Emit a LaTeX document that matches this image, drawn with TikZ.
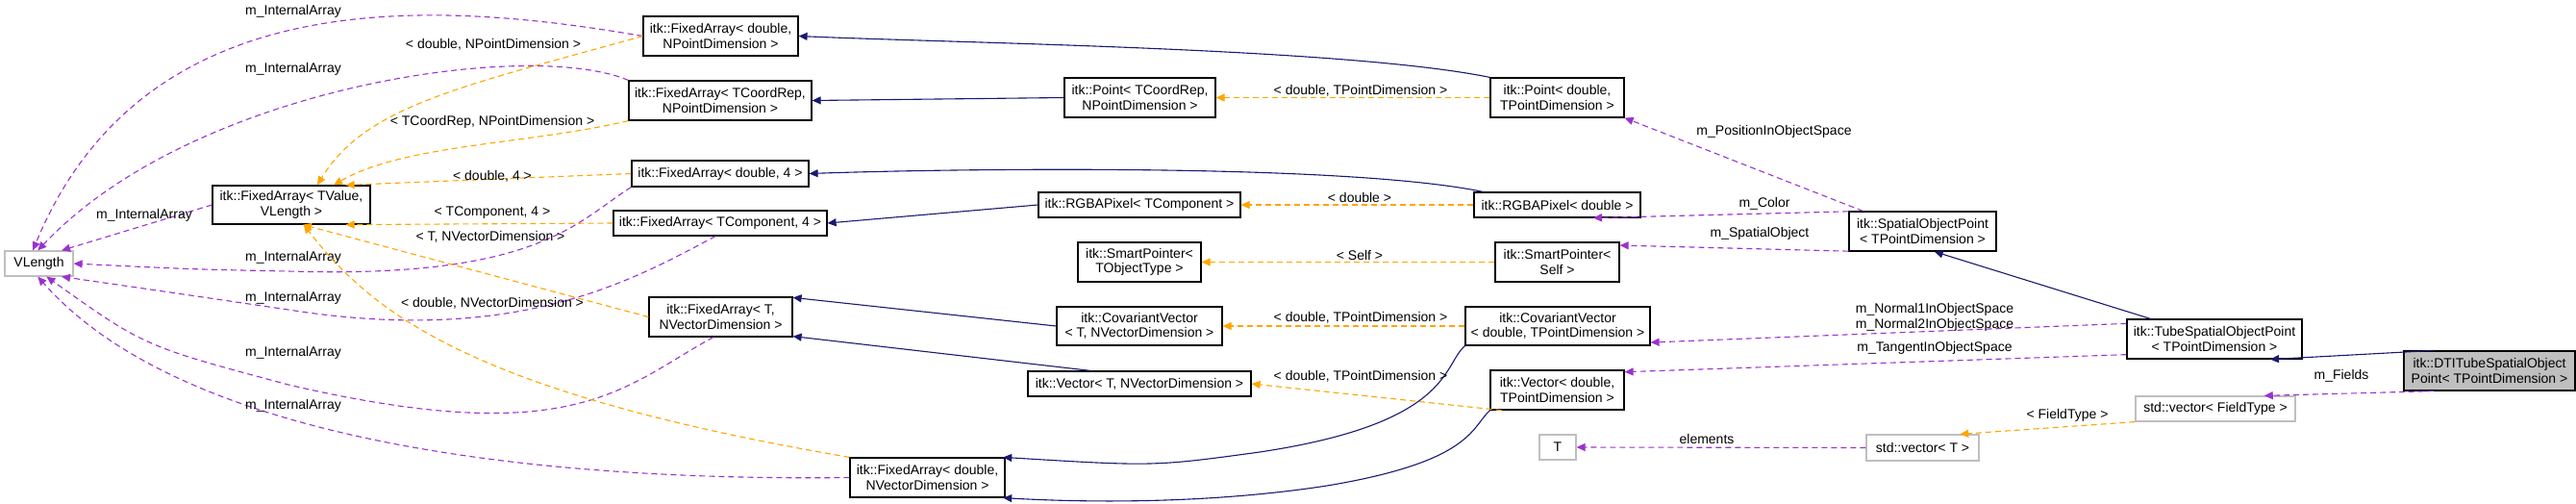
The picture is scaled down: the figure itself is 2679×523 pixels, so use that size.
\documentclass[tikz,border=0pt]{standalone}
\usepackage{fontspec}
\setmainfont{Liberation Sans}
\usetikzlibrary{arrows.meta}
\definecolor{nv}{HTML}{191970}
\definecolor{pu}{HTML}{9A32CD}
\definecolor{or}{HTML}{FFA500}
\definecolor{gb}{HTML}{BFBFBF}
\begin{document}
\begin{tikzpicture}[x=1pt,y=-1pt,
 font=\fontsize{14}{15.5}\selectfont,
 box/.style={draw=black,line width=1.2pt,fill=white,align=center,inner sep=0pt},
 gbox/.style={draw=gb,line width=1.2pt,fill=white,align=center,inner sep=0pt},
 tip/.style={-{Triangle[length=9pt,width=8pt]}},
 inh/.style={tip,draw=nv,line width=1.1pt},
 tpl/.style={tip,draw=or,dashed,dash pattern=on 6pt off 4pt,line width=1.1pt},
 use/.style={tip,draw=pu,dashed,dash pattern=on 6pt off 4pt,line width=1.1pt},
 lab/.style={inner sep=1pt}]
\useasboundingbox (0,0) rectangle (2679,523);
\newcommand\bx[7][box]{\node[#1,minimum width={(#5-#3)*1pt},minimum height={(#6-#4)*1pt}] (#2) at ({(#3+#5)/2},{(#4+#6)/2}) {#7};}
\bx[gbox]{vl}{5}{261}{76}{287}{VLength}
\bx{fav}{221}{193}{385}{233}{itk::FixedArray< TValue,\\VLength >}
\bx{fadp}{669}{17}{830}{58}{itk::FixedArray< double,\\NPointDimension >}
\bx{facp}{654}{84}{844}{125}{itk::FixedArray< TCoordRep,\\NPointDimension >}
\bx{fad4}{657}{167}{841}{194}{itk::FixedArray< double, 4 >}
\bx{fac4}{638}{219}{860}{245}{itk::FixedArray< TComponent, 4 >}
\bx{fatv}{675}{309}{824}{350}{itk::FixedArray< T,\\NVectorDimension >}
\bx{fadv}{884}{476}{1045}{517}{itk::FixedArray< double,\\NVectorDimension >}
\bx{ptc}{1107}{81}{1264}{122}{itk::Point< TCoordRep,\\NPointDimension >}
\bx{ptd}{1550}{81}{1689}{122}{itk::Point< double,\\TPointDimension >}
\bx{rgc}{1080}{200}{1290}{226}{itk::RGBAPixel< TComponent >}
\bx{rgd}{1533}{200}{1706}{226}{itk::RGBAPixel< double >}
\bx{spo}{1121}{252}{1249}{293}{itk::SmartPointer<\\TObjectType >}
\bx{sps}{1555}{252}{1684}{293}{itk::SmartPointer<\\Self >}
\bx{cvt}{1099}{319}{1271}{359}{itk::CovariantVector\\< T, NVectorDimension >}
\bx{cvd}{1524}{319}{1716}{359}{itk::CovariantVector\\< double, TPointDimension >}
\bx{vct}{1069}{386}{1301}{412}{itk::Vector< T, NVectorDimension >}
\bx{vcd}{1550}{385}{1689}{426}{itk::Vector< double,\\TPointDimension >}
\bx[gbox]{tt}{1601}{452}{1639}{478}{T}
\bx{sop}{1923}{220}{2076}{261}{itk::SpatialObjectPoint\\< TPointDimension >}
\bx{tsop}{2212}{332}{2394}{373}{itk::TubeSpatialObjectPoint\\< TPointDimension >}
\bx[box,fill=gb]{dti}{2500}{365}{2678}{406}{itk::DTITubeSpatialObject\\Point< TPointDimension >}
\bx[gbox]{svf}{2221}{412}{2387}{438}{std::vector< FieldType >}
\bx[gbox]{svt}{1941}{452}{2058}{479}{std::vector< T >}
% m_InternalArray edges
\draw[use] (fadp.west) .. controls (450,0) and (150,-20) .. (vl.115);
\draw[use] (facp.north west) .. controls (550,40) and (200,90) .. (vl.95);
\draw[use] (fav.west) -- (vl.30);
\draw[use] (fad4.south west) .. controls (600,230) and (560,290) .. (300,282) .. controls (200,280) .. (vl.east);
\draw[use] (fac4.250) .. controls (660,290) and (540,360) .. (300,322) .. controls (150,300) .. (vl.-30);
\draw[use] (fatv.250) .. controls (650,400) and (600,470) .. (300,400) .. controls (150,360) .. (vl.-60);
\draw[use] (fadv.west) .. controls (600,500) and (200,470) .. (vl.-95);
\node[lab] (l1) at (305,12) {m\_InternalArray};
\node[lab] (l2) at (305,72) {m\_InternalArray};
\node[lab] (l3) at (150,224) {m\_InternalArray};
\node[lab] (l4) at (305,268) {m\_InternalArray};
\node[lab] (l5) at (305,310) {m\_InternalArray};
\node[lab] (l6) at (305,367) {m\_InternalArray};
\node[lab] (l7) at (305,422) {m\_InternalArray};
% template edges to FixedArray<TValue,VLength>
\draw[tpl] (fadp.west) .. controls (480,90) and (380,110) .. ([xshift=27pt]fav.north);
\draw[tpl] (facp.south west) .. controls (550,150) and (420,150) .. ([xshift=44pt]fav.north);
\draw[tpl] (fad4.west) -- (fav.20);
\draw[tpl] (fac4.west) -- (fav.-20);
\draw[tpl] (fatv.west) -- (fav.-60);
\draw[tpl] (fadv.north west) .. controls (500,410) and (390,330) .. (fav.-58);
\node[lab] (t1) at (513,46) {< double, NPointDimension >};
\node[lab] (t2) at (512,127) {< TCoordRep, NPointDimension >};
\node[lab] (t3) at (512,183) {< double, 4 >};
\node[lab] (t4) at (512,221) {< TComponent, 4 >};
\node[lab] (t5) at (510,246) {< T, NVectorDimension >};
\node[lab] (t6) at (512,315) {< double, NVectorDimension >};
% inheritance
\draw[inh] (ptd.north west) .. controls (1400,50) and (1000,45) .. (fadp.east);
\draw[inh] (ptc.west) -- (facp.east);
\draw[inh] (rgd.170) .. controls (1400,170) and (1000,175) .. (fad4.east);
\draw[inh] (rgc.west) -- (fac4.east);
\draw[inh] (cvt.west) -- (fatv.15);
\draw[inh] (vct.165) -- (fatv.-15);
\draw[inh] (cvd.south west) .. controls (1500,380) and (1510,440) .. (1310,470) .. controls (1200,485) .. (fadv.15);
\draw[inh] (vcd.south west) .. controls (1530,445) and (1530,480) .. (1380,505) .. controls (1250,525) and (1120,522) .. (fadv.-15);
\draw[inh] (tsop.north west) ++(25,0) coordinate (ta) (ta) -- (sop.-60);
\draw[inh] (dti.160) -- (tsop.-20);
% template, right side
\draw[tpl] (ptd.west) -- (ptc.east);
\draw[tpl] (rgd.west) -- (rgc.east);
\draw[tpl] (sps.west) -- (spo.east);
\draw[tpl] (cvd.west) -- (cvt.east);
\draw[tpl] (vcd.200) -- (vct.east);
\draw[tpl] (svf.south west) -- (svt.20);
\node[lab] (r1) at (1415,94) {< double, TPointDimension >};
\node[lab] (r2) at (1414,205) {< double >};
\node[lab] (r3) at (1414,265) {< Self >};
\node[lab] (r4) at (1415,330) {< double, TPointDimension >};
\node[lab] (r5) at (1415,391) {< double, TPointDimension >};
\node[lab] (r6) at (2150,432) {< FieldType >};
% usage, right side
\draw[use] (sop.north west) ++(15,0) coordinate (sa) (sa) -- (ptd.south east);
\draw[use] (sop.165) -- (rgd.-20);
\draw[use] (sop.-165) -- (sps.15);
\draw[use] (tsop.170) -- (cvd.-10);
\draw[use] (tsop.-170) -- (vcd.15);
\draw[use] (dti.-160) -- (svf.15);
\draw[use] (svt.west) -- (tt.east);
\node[lab] (u1) at (1845,137) {m\_PositionInObjectSpace};
\node[lab] (u2) at (1835,212) {m\_Color};
\node[lab] (u3) at (1830,243) {m\_SpatialObject};
\node[lab,align=center] (u4) at (2012,330) {m\_Normal1InObjectSpace\\m\_Normal2InObjectSpace};
\node[lab] (u5) at (2012,362) {m\_TangentInObjectSpace};
\node[lab] (u6) at (2435,391) {m\_Fields};
\node[lab] (u7) at (1775,456) {elements};
\end{tikzpicture}
\end{document}
